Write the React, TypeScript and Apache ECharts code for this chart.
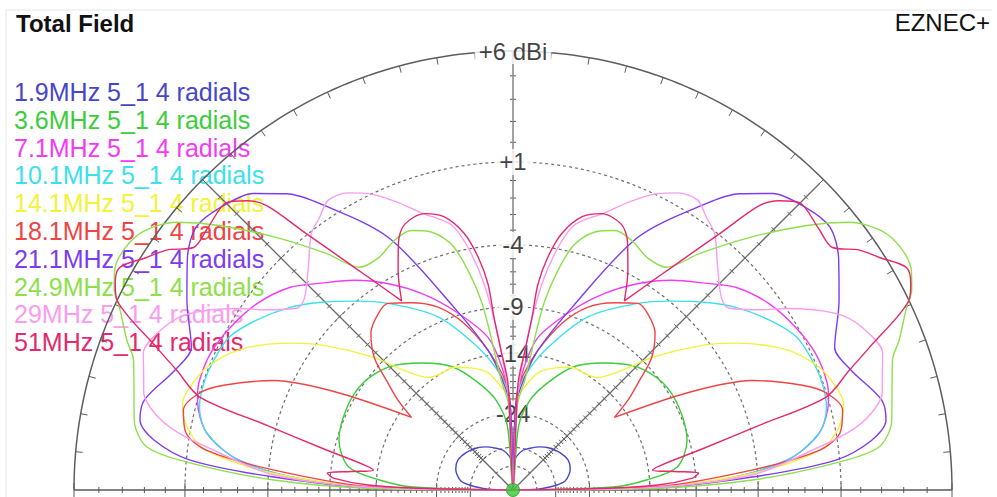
import React, { useEffect, useRef } from 'react';
import * as echarts from 'echarts';

// Elevation pattern of a 5_1 vertical with 4 radials, ARRL log scale.
// Each pattern: [elevation deg (0..90), gain dBi]; the plot is mirrored about the zenith.
const MAX_DB = 6;
const FREQS = ['1.9MHz', '3.6MHz', '7.1MHz', '10.1MHz', '14.1MHz', '18.1MHz', '21.1MHz', '24.9MHz', '29MHz', '51MHz'];
const NAME_SUFFIX = ' 5_1 4 radials';
const COLORS = ['#4646c8', '#3ccc3c', '#f23cf2', '#3ce0ec', '#f2f23a', '#f04444', '#7d3cf0', '#8ee04a', '#fa9cf0', '#e6286c'];

const G_1_9: [number, number][] = [[0, -99], [2, -43], [4.6, -36.5], [6.5, -33.5], [9.8, -30.3], [15, -28.8], [20, -27.9], [28.6, -27.4], [39, -28.2], [50, -29.6], [58, -31], [68, -33.1], [76, -34.7], [84, -38], [90, -42]];
const G_3_6: [number, number][] = [[0, -99], [1.7, -19.4], [4.3, -14.4], [8, -10.7], [16, -9.2], [26.4, -8.8], [35.5, -8.9], [44.8, -9.8], [54.7, -11.8], [64, -14], [72, -17.3], [79.3, -20.9], [85, -27], [90, -99]];
const G_7_1: [number, number][] = [[0, -99], [1, -16], [2.8, -6.9], [6.2, -2], [10.5, 0.1], [15.9, 1], [18.8, 1.2], [24.3, 1.2], [29.9, 0.9], [36, 0.4], [42.2, -0.45], [47.2, -1.6], [52.9, -2.8], [58.9, -4.3], [65, -6.1], [71.9, -8.5], [80.7, -11.9], [85, -16], [88, -22], [90, -99]];
const G_10_1: [number, number][] = [[0, -99], [1, -16], [2.8, -6.9], [6.2, -2], [10.5, 0.1], [14.8, 0.8], [19, 0.95], [23.4, 0.9], [28.3, 0.7], [33.5, -0.1], [39.2, -1.2], [44.4, -2.45], [50, -3.9], [56.2, -5.5], [66.6, -8.5], [77.1, -13.2], [84, -17], [87.5, -20], [90, -99]];
const G_14_1: [number, number][] = [[0, -99], [1.2, -13.6], [4, -4.3], [7.4, 0], [10.9, 1.2], [14.7, 1.7], [17.6, 1.57], [21.8, 1.1], [27.1, -0.1], [33.3, -2.5], [37.4, -4.5], [43.5, -8.1], [47.8, -11.2], [53, -13.5], [58, -14], [64.4, -14.1], [71, -15], [78, -16.3], [84, -19], [87.5, -21], [90, -99]];
const G_18_1: [number, number][] = [[0, -99], [1.2, -13.6], [4.8, -4.3], [7.4, 0], [9.9, 1.2], [13.6, 1.57], [17.2, 1], [19.9, -0.1], [24.6, -2.8], [29, -7.35], [35.6, -15.6], [38, -12.9], [40.6, -10.8], [43.7, -8.2], [47.9, -6.5], [52.7, -5.7], [56.2, -5.5], [61.5, -6.4], [67.7, -7.7], [73.6, -9.9], [79.9, -13.4], [85, -17], [88, -21], [90, -99]];
const G_21_1: [number, number][] = [[0, -99], [0.8, -13.6], [3.1, -4.4], [5.3, 0.8], [7.9, 2.7], [10.6, 3.5], [13.7, 3.5], [19.4, 2.55], [23.9, 2.2], [30.2, 3.4], [35.5, 4.4], [39.7, 4.9], [43.9, 4.7], [48.8, 4.15], [52.6, 3.2], [56.2, 1.8], [63.7, -1.6], [72.1, -8.2], [79.9, -13.4], [84, -17.2], [88, -22], [90, -99]];
const G_24_9: [number, number][] = [[0, -99], [0.6, -13.6], [2.4, -4.4], [4.8, 0.8], [6.7, 3], [10.4, 3.75], [14.7, 4.05], [18.9, 4.45], [21.2, 5], [24.9, 5.8], [26.6, 6.27], [28.8, 6.6], [31.9, 6.7], [35.1, 6.45], [38.5, 5.65], [42, 4.2], [46.9, 1.9], [51.7, -0.45], [55.4, -2.3], [59.9, -2.45], [64.5, -1.95], [68.6, -1.8], [72.4, -2.3], [76.4, -3.7], [80.4, -8.1], [83.8, -17.6], [87, -22], [90, -99]];
const G_29: [number, number][] = [[0, -99], [1, -14], [3.6, -4.4], [8, 0], [10, 1.8], [12.1, 2.9], [14.7, 3.6], [17.5, 3.85], [20.3, 4.15], [25, 3.75], [28.6, 3], [33.6, 1], [36.1, -0.2], [40.2, -1.6], [42.7, -1.5], [47.4, -0.4], [51.8, 0.9], [54.5, 1.3], [57.5, 1.8], [61, 1.6], [64.4, 1], [67.7, 0.15], [71.7, -1], [77.4, -2.4], [82, -6.8], [87, -19.4], [90, -99]];
const G_51: [number, number][] = [[0, -99], [1, -22], [2, -13], [3.8, -9.3], [5.2, -8.7], [6.5, -11], [8.1, -13.5], [12.1, -8.3], [14.7, -3.4], [16.5, 0.9], [19.6, 2.45], [21.8, 3.7], [25.6, 6], [27.4, 6.35], [29.5, 6.5], [32.4, 5.8], [34.7, 5.3], [37.2, 4.45], [40.6, 4.5], [45.1, 4.65], [47.4, 4.1], [49.1, 3.35], [51, 1.2], [52.4, -0.2], [54.5, -2.1], [56.6, -3.8], [59.5, -5.9], [62.4, -3.8], [65.3, -2.1], [67.8, -1.3], [72.2, -1.1], [75.8, -1.6], [79.2, -2.9], [81.5, -4.7], [83.1, -6.9], [83.7, -9.9], [85.1, -13.65], [87.3, -18.3], [90, -99]];

const PATTERNS = [G_1_9, G_3_6, G_7_1, G_10_1, G_14_1, G_18_1, G_21_1, G_24_9, G_29, G_51];

// Grid rings (dB) and the labels drawn on the zenith axis
const RING_DB = [1, -4, -9, -14, -24, -34, -44];
const LABEL_DB = [6, 1, -4, -9, -14, -24];
const LABEL_TEXT = ['+6 dBi', '+1', '-4', '-9', '-14', '-24'];
const AXIS_ANGLES = [0, 45, 90, 135, 180];
const TICK_MIN_DB = -34;

const FONT = 'Arial, "Liberation Sans", Helvetica, sans-serif';

// ARRL log scale: radius shrinks by 0.89 for every 2 dB below the outer ring
const arrl = (db: number) => Math.pow(0.89, (MAX_DB - db) / 2);

const R_MAX = 1.1;
const OUTER_PX = 439;

function mirrored(p: [number, number][]) {
  const right = p.map(([el, g]) => [arrl(g), el]);
  const left: number[][] = [];
  for (let i = p.length - 2; i >= 0; i--) left.push([arrl(p[i][1]), 180 - p[i][0]]);
  return right.concat(left);
}

function arc(db: number) {
  const pts: number[][] = [];
  for (let a = 0; a <= 180; a += 1) pts.push([arrl(db), a]);
  return pts;
}

export default function App() {
  const ref = useRef<HTMLDivElement>(null);

  useEffect(() => {
    if (!ref.current) return;
    const chart = echarts.init(ref.current, undefined, { renderer: 'svg' });

    const gridSeries: any[] = [];
    // outer ring
    gridSeries.push({
      type: 'line', coordinateSystem: 'polar', data: arc(MAX_DB), showSymbol: false, silent: true, z: 1,
      lineStyle: { color: '#5e5e5e', width: 1.5 },
    });
    // dotted rings
    RING_DB.forEach((db) => {
      gridSeries.push({
        type: 'line', coordinateSystem: 'polar', data: arc(db), showSymbol: false, silent: true, z: 1,
        lineStyle: { color: '#6e6e6e', width: 1.2, type: [3, 3] },
      });
    });
    // baseline and radial axes
    gridSeries.push({
      type: 'line', coordinateSystem: 'polar', data: [[1, 0], [0, 0], [1, 180]], showSymbol: false, silent: true, z: 1,
      lineStyle: { color: '#5a5a5a', width: 1.5 },
    });
    [45, 135].forEach((a) => {
      gridSeries.push({
        type: 'line', coordinateSystem: 'polar', data: [[0, a], [arrl(5.8), a]], showSymbol: false, silent: true, z: 1,
        lineStyle: { color: '#6a6a6a', width: 1.3 },
      });
    });
    gridSeries.push({
      type: 'line', coordinateSystem: 'polar', data: [[0, 90], [1, 90]], showSymbol: false, silent: true, z: 1,
      lineStyle: { color: '#8c8c8c', width: 1.6 },
    });

    // 1 dB ticks on the axes, 5° ticks on the outer ring
    const tickData: number[][] = [];
    AXIS_ANGLES.forEach((a) => {
      for (let db = MAX_DB; db >= TICK_MIN_DB; db -= 1) {
        const major = db === MAX_DB || RING_DB.includes(db);
        const len = a % 180 === 0 ? (major ? 7 : 3) : (major ? 5 : 3);
        tickData.push([arrl(db), a, len, 0]);
      }
    });
    for (let a = 5; a < 180; a += 5) tickData.push([1, a, 7, 1]);

    gridSeries.push({
      type: 'custom', coordinateSystem: 'polar', silent: true, z: 1, data: tickData,
      encode: { radius: 0, angle: 1 },
      renderItem: (_params: any, api: any) => {
        const p = api.coord([api.value(0), api.value(1)]);
        const t = (api.value(1) * Math.PI) / 180;
        const len = api.value(2);
        const ux = Math.cos(t);
        const uy = -Math.sin(t);
        let shape;
        if (api.value(3) === 0) {
          const nx = -uy;
          const ny = ux;
          shape = { x1: p[0] - nx * len, y1: p[1] - ny * len, x2: p[0] + nx * len, y2: p[1] + ny * len };
        } else {
          shape = { x1: p[0], y1: p[1], x2: p[0] - ux * len, y2: p[1] - uy * len };
        }
        return { type: 'line', shape, style: { stroke: '#5a5a5a', lineWidth: 1 } };
      },
    });

    const labelSeries = {
      type: 'scatter', coordinateSystem: 'polar', z: 2, silent: true, symbolSize: 1,
      itemStyle: { color: 'rgba(0,0,0,0)' },
      data: LABEL_DB.map((db, i) => ({ value: [arrl(db), 90], name: LABEL_TEXT[i] })),
      label: {
        show: true, position: 'inside', formatter: '{b}', color: '#111', fontSize: 24, fontFamily: FONT,
        backgroundColor: '#ffffff', padding: [1, 4],
      },
    };

    const curveSeries = PATTERNS.map((p, i) => ({
      name: FREQS[i] + NAME_SUFFIX,
      type: 'line', coordinateSystem: 'polar', z: 3, data: mirrored(p), showSymbol: false, smooth: 0.3,
      clip: false, lineStyle: { color: COLORS[i], width: 1.4 }, itemStyle: { color: COLORS[i] },
    }));

    const feedPoint = {
      type: 'scatter', coordinateSystem: 'polar', z: 4, silent: true, data: [[0, 90]], symbolSize: 13,
      itemStyle: { color: '#38c838', borderColor: '#2a9a2a', borderWidth: 1 },
    };

    const legendTexts = FREQS.map((f, i) => ({
      type: 'text', x: 14, y: 92 + i * 27.8, silent: true,
      style: {
        text: f + NAME_SUFFIX, fill: COLORS[i], font: `25px ${FONT}`,
        textVerticalAlign: 'middle', verticalAlign: 'middle',
      },
    }));

    chart.setOption({
      animation: false,
      backgroundColor: '#ffffff',
      textStyle: { fontFamily: FONT },
      polar: { center: [513, 490], radius: OUTER_PX * R_MAX },
      angleAxis: {
        type: 'value', min: 0, max: 360, startAngle: 0, clockwise: false,
        axisLine: { show: false }, axisTick: { show: false }, axisLabel: { show: false }, splitLine: { show: false },
      },
      radiusAxis: {
        type: 'value', min: 0, max: R_MAX,
        axisLine: { show: false }, axisTick: { show: false }, axisLabel: { show: false }, splitLine: { show: false },
      },
      graphic: [
        { type: 'line', silent: true, shape: { x1: 6, y1: 10, x2: 992, y2: 10 }, style: { stroke: '#e6e6e6', lineWidth: 1 } },
        { type: 'line', silent: true, shape: { x1: 6, y1: 10, x2: 6, y2: 497 }, style: { stroke: '#e6e6e6', lineWidth: 1 } },
        {
          type: 'text', x: 16, y: 23, silent: true,
          style: { text: 'Total Field', fill: '#111', font: `bold 24px ${FONT}`, textVerticalAlign: 'middle', verticalAlign: 'middle' },
        },
        {
          type: 'text', x: 990, y: 22, silent: true,
          style: {
            text: 'EZNEC+', fill: '#111', font: `24px ${FONT}`,
            textAlign: 'right', align: 'right', textVerticalAlign: 'middle', verticalAlign: 'middle',
          },
        },
        ...legendTexts,
      ],
      series: [...gridSeries, labelSeries, ...curveSeries, feedPoint],
    });

    return () => chart.dispose();
  }, []);

  return <div ref={ref} style={{ position: 'absolute', left: 0, top: 0, width: 997, height: 497 }} />;
}
